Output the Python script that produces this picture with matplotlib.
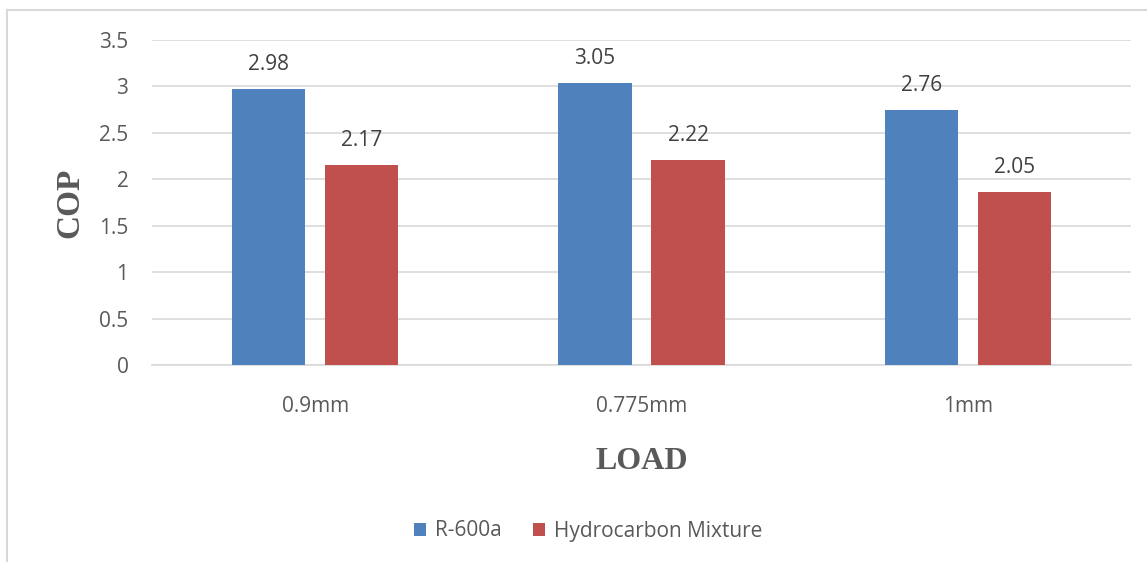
import numpy as np
import matplotlib
matplotlib.use('Agg')
import matplotlib.pyplot as plt
from matplotlib.patches import Rectangle

plt.rcParams['font.family'] = ['Open Sans', 'DejaVu Sans']

#data
categories = ['0.9mm', '0.775mm', '1mm']
series_names = ['R-600a', 'Hydrocarbon Mixture']
r600a = [2.97, 3.04, 2.75]    #bar heights
hc_mix = [2.15, 2.21, 1.86]
r600a_labels = ['2.98', '3.05', '2.76']    #printed data labels
hc_mix_labels = ['2.17', '2.22', '2.05']
yticks = [0, 0.5, 1, 1.5, 2, 2.5, 3, 3.5]

blue = '#4F81BD'
red = '#C0504D'
text_col = '#404040'
tick_col = '#595959'

fig = plt.figure(figsize=(11.47, 5.62), dpi=100)

#light frame round the chart
fig.patches.append(Rectangle((7/1147, -0.05), 1.2, 1 - 10/562 + 0.05, transform=fig.transFigure,
                             fill=False, edgecolor='#d9d9d9', lw=1.5))

ax = fig.add_axes([152/1147, 1 - 365/562, (1131 - 152)/1147, (365 - 40)/562])

x = np.arange(len(categories))
w = 0.224
off = 0.1425

b1 = ax.bar(x - off, r600a, w, color=blue, label=series_names[0], zorder=3)
b2 = ax.bar(x + off, hc_mix, w, color=red, label=series_names[1], zorder=3)

#data labels above bars
for bars, labs in [(b1, r600a_labels), (b2, hc_mix_labels)]:
    for b, lab in zip(bars, labs):
        ax.text(b.get_x() + b.get_width()/2, b.get_height() + 0.15, lab,
                ha='center', va='bottom', fontsize=15, color=text_col)

ax.set_xlim(-0.5, 2.5)
ax.set_ylim(0, 3.5)
ax.set_yticks(yticks)
ax.set_yticklabels([f'{v:g}' for v in yticks])
ax.set_xticks(x)
ax.set_xticklabels(categories)
ax.tick_params(axis='both', length=0, labelsize=15, labelcolor=tick_col)
ax.tick_params(axis='y', pad=17)
ax.tick_params(axis='x', pad=22)

ax.grid(axis='y', color='#d9d9d9', lw=1.2, zorder=0)
for s in ['top', 'right', 'left']:
    ax.spines[s].set_visible(False)
ax.spines['bottom'].set_color('#d9d9d9')
ax.spines['bottom'].set_linewidth(1.2)

ax.set_ylabel('COP', fontsize=24, fontweight='bold', family='Liberation Serif',
              color='#595959', labelpad=10)
ax.set_xlabel('LOAD', fontsize=23, fontweight='bold', family='Liberation Serif',
              color='#595959', labelpad=22)

ax.legend(loc='center', bbox_to_anchor=(588/1147, 1 - 531/562), bbox_transform=fig.transFigure,
          ncol=2, frameon=False, fontsize=15, handlelength=0.6, handleheight=0.6,
          handletextpad=0.4, columnspacing=1.5, labelcolor=tick_col)

fig.savefig('out.png', dpi=100)
